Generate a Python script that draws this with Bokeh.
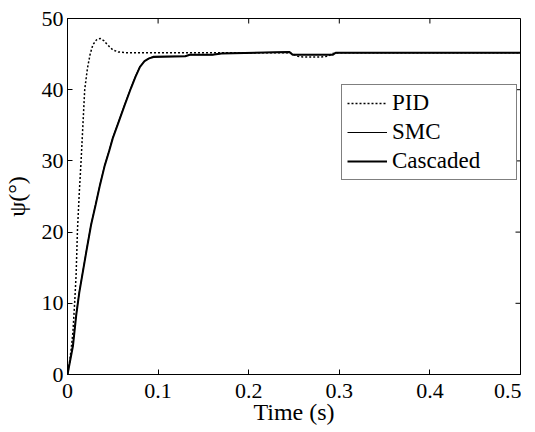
from bokeh.plotting import figure
from bokeh.embed import file_html
from bokeh.resources import INLINE
from bokeh.models import FixedTicker, NumeralTickFormatter, Legend, LegendItem, Range1d

# ---- data ----
t_pid = [0, 0.002, 0.004, 0.006, 0.008, 0.0095, 0.011, 0.013, 0.015, 0.017, 0.019, 0.022,
         0.025, 0.028, 0.032, 0.036, 0.040, 0.045, 0.050, 0.056, 0.065, 0.08, 0.2, 0.245,
         0.254, 0.26, 0.27, 0.28, 0.287, 0.293, 0.30, 0.4, 0.5]
psi_pid = [0, 1.5, 3.5, 6.0, 10.3, 14.0, 20.3, 25.5, 30.0, 35.0, 40.0, 43.0,
           45.0, 46.3, 47.0, 47.2, 46.9, 46.2, 45.6, 45.3, 45.2, 45.2, 45.2, 45.2,
           44.7, 44.6, 44.6, 44.6, 44.7, 45.1, 45.2, 45.2, 45.2]

t_smc = [0, 0.003, 0.006, 0.0096, 0.013, 0.0207, 0.026, 0.031, 0.036, 0.041, 0.046, 0.050,
         0.056, 0.063, 0.070, 0.075, 0.080, 0.085, 0.090, 0.095, 0.13, 0.135, 0.16, 0.17,
         0.245, 0.2485, 0.293, 0.296, 0.4, 0.5]
psi_smc = [0, 2.1, 4.2, 8.4, 11.6, 17.3, 21.1, 23.9, 26.8, 29.4, 31.5, 33.3,
           35.4, 37.9, 40.3, 41.9, 43.3, 44.0, 44.4, 44.7, 44.7, 44.9, 44.9, 45.1,
           45.3, 44.95, 44.95, 45.2, 45.2, 45.2]

t_cas = [0, 0.003, 0.006, 0.0096, 0.013, 0.0207, 0.026, 0.031, 0.036, 0.041, 0.046, 0.050,
         0.056, 0.063, 0.070, 0.075, 0.080, 0.085, 0.090, 0.095, 0.13, 0.135, 0.16, 0.17,
         0.245, 0.2485, 0.293, 0.296, 0.4, 0.5]
psi_cas = [0, 2.0, 4.0, 8.3, 11.5, 17.2, 21.0, 23.8, 26.7, 29.3, 31.4, 33.2,
           35.3, 37.8, 40.2, 41.8, 43.2, 44.0, 44.4, 44.6, 44.7, 44.9, 44.9, 45.1,
           45.3, 44.9, 44.9, 45.2, 45.2, 45.2]

x_ticks = [0, 0.1, 0.2, 0.3, 0.4, 0.5]
y_ticks = [0, 10, 20, 30, 40, 50]
x_lo, x_hi = 0, 0.5
y_lo, y_hi = 0, 50

FONT = "Liberation Serif"
FW, FH = 453, 356

p = figure(frame_width=FW, frame_height=FH, output_backend="svg", toolbar_location=None,
           x_range=Range1d(x_lo, x_hi), y_range=Range1d(y_lo, y_hi),
           min_border_left=65, min_border_top=18, min_border_right=1, min_border_bottom=50)
p.grid.visible = False
p.outline_line_color = "black"
p.outline_line_width = 1
p.background_fill_color = "white"
p.border_fill_color = "white"

r_pid = p.line(t_pid, psi_pid, line_color="black", line_width=1.5, line_dash="2 2")
r_smc = p.line(t_smc, psi_smc, line_color="black", line_width=1)
r_cas = p.line(t_cas, psi_cas, line_color="black", line_width=2)

# inward ticks on the top and right edges (MATLAB box style), derived from tick lists
tick_len_y = 5 * (y_hi - y_lo) / FH
tick_len_x = 5 * (x_hi - x_lo) / FW
p.segment(x0=x_ticks, y0=[y_hi] * len(x_ticks), x1=x_ticks, y1=[y_hi - tick_len_y] * len(x_ticks),
          line_color="black", line_width=1)
p.segment(x0=[x_hi] * len(y_ticks), y0=y_ticks, x1=[x_hi - tick_len_x] * len(y_ticks), y1=y_ticks,
          line_color="black", line_width=1)

for ax in (p.xaxis[0], p.yaxis[0]):
    ax.major_label_text_font = FONT
    ax.major_label_text_font_size = "22px"
    ax.major_label_text_color = "black"
    ax.axis_label_text_font = FONT
    ax.axis_label_text_font_size = "24px"
    ax.axis_label_text_font_style = "normal"
    ax.axis_label_text_color = "black"
    ax.axis_line_color = "black"
    ax.major_tick_line_color = "black"
    ax.major_tick_in = 5
    ax.major_tick_out = 0
    ax.minor_tick_line_color = None
    ax.formatter = NumeralTickFormatter(format="0.[0]")

p.xaxis[0].ticker = FixedTicker(ticks=x_ticks)
p.yaxis[0].ticker = FixedTicker(ticks=y_ticks)
p.xaxis[0].axis_label = "Time (s)"
p.yaxis[0].axis_label = "ψ(°)"
p.xaxis[0].major_label_standoff = 9
p.xaxis[0].axis_label_standoff = -2
p.yaxis[0].major_label_standoff = 4
p.yaxis[0].axis_label_standoff = 9

legend = Legend(items=[LegendItem(label="PID", renderers=[r_pid]),
                       LegendItem(label="SMC", renderers=[r_smc]),
                       LegendItem(label="Cascaded", renderers=[r_cas])],
                location=(274, 194))
legend.label_text_font = FONT
legend.label_text_font_size = "23px"
legend.label_text_color = "black"
legend.border_line_color = "black"
legend.border_line_width = 1
legend.glyph_width = 40
legend.glyph_height = 20
legend.label_height = 20
legend.label_width = 119
legend.spacing = 3
legend.padding = 5
legend.margin = 0
legend.label_standoff = 5
legend.background_fill_alpha = 1
p.add_layout(legend, "center")

open("out.html", "w").write(file_html(p, INLINE))
